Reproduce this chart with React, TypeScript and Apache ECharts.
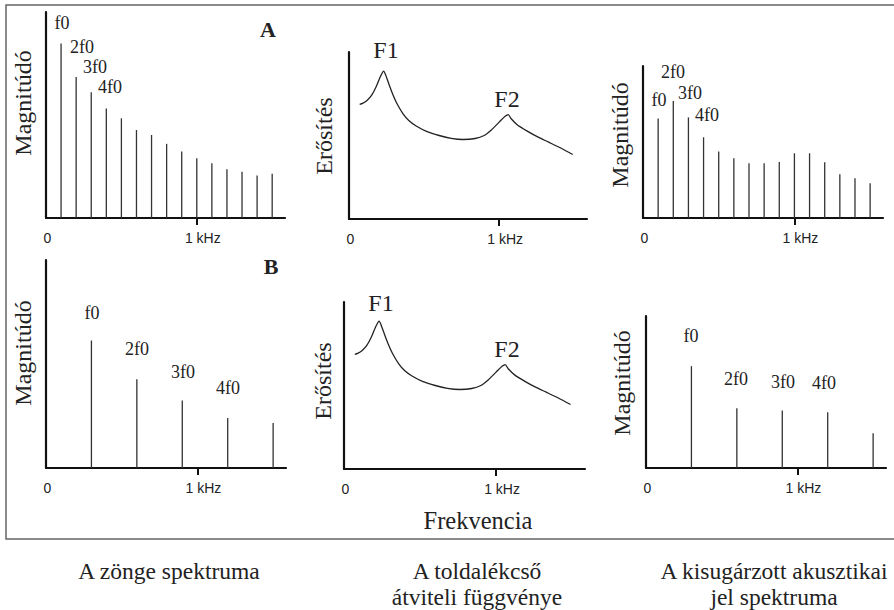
import React, { useEffect, useRef } from "react";
import * as echarts from "echarts";

// ---- data ----
const harmonicsA = [0.1, 0.2, 0.3, 0.4, 0.5, 0.6, 0.7, 0.8, 0.9, 1.0, 1.1, 1.2, 1.3, 1.4, 1.5];
const sourceA = [84.7, 68.5, 61, 53.2, 48.4, 42.7, 40.3, 36, 32.3, 29, 26.6, 23.7, 22.4, 20.6, 21.5];
const outputA = [65.5, 76.9, 66.2, 53.1, 43.7, 39.3, 36.0, 36.0, 36.9, 42.6, 42.6, 36.7, 28.8, 26.2, 22.9];
const harmonicsB = [0.3, 0.6, 0.9, 1.2, 1.5];
const sourceB = [61.3, 42.7, 32.5, 24, 21.6];
const outputB = [67.0, 39.3, 37.8, 36.7, 22.9];
const filterFreq = [0.071, 0.09, 0.12, 0.15, 0.18, 0.21, 0.231, 0.245, 0.265, 0.29, 0.32, 0.36, 0.4, 0.45, 0.52, 0.6, 0.68, 0.76, 0.84, 0.9, 0.95, 1.0, 1.04, 1.06, 1.08, 1.12, 1.19, 1.26, 1.33, 1.41, 1.49];
const filterGain = [68.7, 69.2, 71, 74, 79, 85.5, 88.6, 86, 81, 75, 69, 63, 58.8, 55.5, 52.3, 50, 48.3, 47.6, 48.2, 50, 53.5, 58, 61.5, 62.5, 60, 56.5, 52.5, 49, 46, 42.5, 38.6];
const tickLabels = ["0", "1 kHz"];
const harmonicLabels = ["f0", "2f0", "3f0", "4f0"];
const formantLabels = ["F1", "F2"];
const panelTags = ["A", "B"];
const yNames = ["Magnitúdó", "Erősítés"];
const xName = "Frekvencia";
const captions = [["A zönge spektruma"], ["A toldalékcső", "átviteli függvénye"], ["A kisugárzott akusztikai", "jel spektruma"]];

const X_MAX = 1.585;
const SERIF = '"Liberation Serif", "Times New Roman", serif';
const SANS = '"Liberation Sans", Arial, sans-serif';

const grids = [
  { left: 46, top: 12, width: 239, height: 206 },
  { left: 349, top: 52, width: 238, height: 167 },
  { left: 643, top: 66, width: 240, height: 152 },
  { left: 46, top: 260, width: 240, height: 208 },
  { left: 344, top: 302, width: 241, height: 167 },
  { left: 646, top: 316, width: 240, height: 152 },
];

function txt(text: string, x: number, y: number, size: number, extra: any = {}) {
  return {
    type: "text",
    x,
    y,
    rotation: extra.rotation || 0,
    silent: true,
    style: {
      text,
      fontSize: size,
      fontFamily: SERIF,
      fontWeight: extra.bold ? "bold" : "normal",
      fill: "#222",
      align: "center",
      textAlign: "center",
      verticalAlign: "middle",
      textVerticalAlign: "middle",
    },
  };
}

export default function App() {
  const ref = useRef<HTMLDivElement>(null);
  useEffect(() => {
    if (!ref.current) return;
    const chart = echarts.init(ref.current, undefined, { renderer: "svg" });
    const axisColor = "#111";
    const xAxes = grids.map((_, i) => ({
      gridIndex: i,
      type: "value",
      min: 0,
      max: X_MAX,
      interval: 1,
      axisLine: { show: true, onZero: false, lineStyle: { color: axisColor, width: 2.2 } },
      axisTick: { show: true, customValues: [1], length: 7, lineStyle: { color: axisColor, width: 2 } },
      axisLabel: {
        show: true,
        customValues: [0, 1],
        margin: 13,
        formatter: (v: number) => (v === 0 ? `{z|${tickLabels[0]}}` : `{k|${tickLabels[1]}}`),
        rich: {
          z: { fontFamily: SANS, fontSize: 14, color: "#222", padding: [0, 0, 0, 3] },
          k: { fontFamily: SANS, fontSize: 14, color: "#222", padding: [0, 0, 0, 12] },
        },
      },
      splitLine: { show: false },
    }));
    const yAxes = grids.map((_, i) => ({
      gridIndex: i,
      type: "value",
      min: 0,
      max: 100,
      axisLine: { show: true, lineStyle: { color: axisColor, width: 2.2 } },
      axisTick: { show: false },
      axisLabel: { show: false },
      splitLine: { show: false },
    }));
    const bar = (i: number, xs: number[], ys: number[]) => ({
      type: "bar",
      xAxisIndex: i,
      yAxisIndex: i,
      barWidth: 1.3,
      itemStyle: { color: "#333" },
      data: xs.map((x, k) => [x, ys[k]]),
    });
    const curve = (i: number) => ({
      type: "line",
      xAxisIndex: i,
      yAxisIndex: i,
      symbol: "none",
      smooth: 0.25,
      lineStyle: { color: "#222", width: 1.3 },
      data: filterFreq.map((x, k) => [x, filterGain[k]]),
    });

    const hl = harmonicLabels;
    const HS = 18;
    const graphics: any[] = [
      {
        type: "rect",
        shape: { x: 6, y: 5, width: 900, height: 534 },
        style: { fill: "none", stroke: "#666", lineWidth: 1.5 },
        silent: true,
      },
      // panel tags
      txt(panelTags[0], 268, 29, 22, { bold: true }),
      txt(panelTags[1], 271, 266, 22, { bold: true }),
      // TL labels
      txt(hl[0], 62, 23, HS), txt(hl[1], 82, 47, HS), txt(hl[2], 95, 67, HS), txt(hl[3], 110, 87, HS),
      // TR labels
      txt(hl[0], 659, 100, HS), txt(hl[1], 673, 72, HS), txt(hl[2], 690, 93, HS), txt(hl[3], 707, 115, HS),
      // BL labels
      txt(hl[0], 92, 313, HS), txt(hl[1], 137, 349, HS), txt(hl[2], 183, 372, HS), txt(hl[3], 228, 388, HS),
      // BR labels
      txt(hl[0], 691, 336, HS), txt(hl[1], 736, 379, HS), txt(hl[2], 783, 382, HS), txt(hl[3], 824, 383, HS),
      // formants
      txt(formantLabels[0], 386, 50, 24), txt(formantLabels[1], 507, 99, 24),
      txt(formantLabels[0], 381, 303, 24), txt(formantLabels[1], 507, 349, 24),
      // y names
      txt(yNames[0], 23, 103, 24, { rotation: Math.PI / 2 }),
      txt(yNames[0], 23, 353, 24, { rotation: Math.PI / 2 }),
      txt(yNames[1], 324, 136, 24, { rotation: Math.PI / 2 }),
      txt(yNames[1], 323, 381, 24, { rotation: Math.PI / 2 }),
      txt(yNames[0], 620, 135, 24, { rotation: Math.PI / 2 }),
      txt(yNames[0], 622, 383, 24, { rotation: Math.PI / 2 }),
      // x name
      txt(xName, 478, 520, 24.5),
      // captions
      txt(captions[0][0], 169, 571, 23.5),
      txt(captions[1][0], 477, 571, 23.5),
      txt(captions[1][1], 477, 597, 23.5),
      txt(captions[2][0], 774, 571, 23.5),
      txt(captions[2][1], 774, 597, 23.5),
    ];

    chart.setOption({
      animation: false,
      backgroundColor: "#ffffff",
      grid: grids.map((g) => ({ ...g, containLabel: false })),
      xAxis: xAxes,
      yAxis: yAxes,
      series: [
        bar(0, harmonicsA, sourceA),
        curve(1),
        bar(2, harmonicsA, outputA),
        bar(3, harmonicsB, sourceB),
        curve(4),
        bar(5, harmonicsB, outputB),
      ],
      graphic: graphics,
    });
    return () => chart.dispose();
  }, []);
  return (
    <div
      ref={ref}
      style={{ position: "fixed", left: 0, top: 0, width: 894, height: 610, background: "#fff" }}
    />
  );
}
